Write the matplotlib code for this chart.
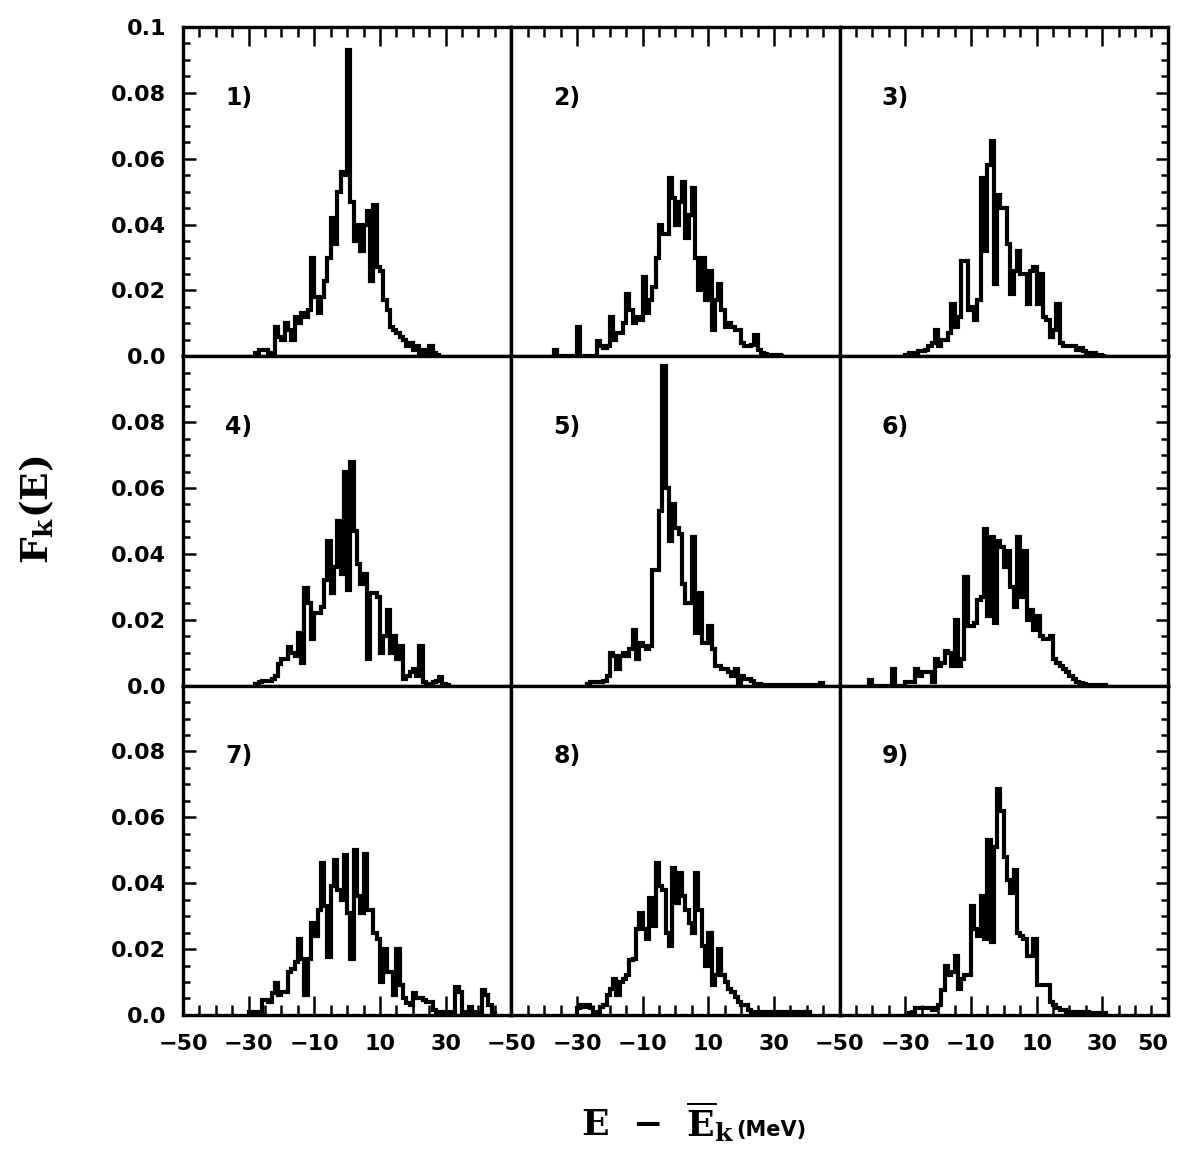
import numpy as np
import matplotlib
matplotlib.use("Agg")
import matplotlib.pyplot as plt
from matplotlib.ticker import FixedLocator, MultipleLocator, FuncFormatter

# energy distributions F_k(E), 1 MeV bins, first bin left edge = Pn_START
P1_START = -28
P1 = [0.001, 0.002, 0.002, 0.002, 0.001, 0.001, 0.009, 0.006, 0.005, 0.010,
      0.008, 0.005, 0.012, 0.010, 0.013, 0.012, 0.014, 0.030, 0.018, 0.013,
      0.018, 0.023, 0.030, 0.042, 0.034, 0.050, 0.056, 0.055, 0.093, 0.047,
      0.035, 0.040, 0.032, 0.040, 0.044, 0.023, 0.046, 0.027, 0.026, 0.017,
      0.014, 0.009, 0.008, 0.007, 0.006, 0.005, 0.003, 0.004, 0.002, 0.003,
      0.001, 0.002, 0.001, 0.003, 0.001, 0.0005]

P2_START = -37
P2 = [0.002, 0, 0, 0, 0, 0, 0, 0.009, 0, 0,
      0, 0, 0, 0.0045, 0.003, 0.0025, 0.003, 0.012, 0.005, 0.007,
      0.007, 0.010, 0.019, 0.014, 0.010, 0.012, 0.011, 0.024, 0.013, 0.017,
      0.021, 0.030, 0.040, 0.037, 0.037, 0.054, 0.048, 0.040, 0.047, 0.053,
      0.036, 0.043, 0.051, 0.030, 0.020, 0.030, 0.017, 0.026, 0.008, 0.017,
      0.022, 0.014, 0.009, 0.010, 0.009, 0.008, 0.008, 0.004, 0.003, 0.003,
      0.0035, 0.0066, 0.002, 0.001, 0.0008, 0.0005, 0.0004, 0.0003, 0.0003, 0.0002]

P3_START = -30
P3 = [0.0005, 0.001, 0.0005, 0.001, 0.0015, 0.0015, 0.002, 0.003, 0.004, 0.008,
      0.003, 0.005, 0.005, 0.007, 0.016, 0.009, 0.012, 0.029, 0.029, 0.014,
      0.015, 0.011, 0.017, 0.054, 0.032, 0.058, 0.0655, 0.022, 0.049, 0.045,
      0.045, 0.034, 0.019, 0.026, 0.032, 0.025, 0.025, 0.016, 0.026, 0.027,
      0.016, 0.025, 0.012, 0.011, 0.006, 0.008, 0.016, 0.004, 0.003, 0.003,
      0.003, 0.003, 0.002, 0.0025, 0.0015, 0.001, 0.0008, 0.001, 0.0004, 0.0003, 0.0002]

P4_START = -28
P4 = [0.0005, 0.001, 0.0015, 0.0015, 0.0015, 0.002, 0.003, 0.0066, 0.008, 0.008,
      0.0117, 0.010, 0.009, 0.016, 0.007, 0.0295, 0.025, 0.014, 0.022, 0.022,
      0.024, 0.032, 0.044, 0.028, 0.036, 0.050, 0.034, 0.065, 0.029, 0.068,
      0.047, 0.037, 0.031, 0.034, 0.008, 0.028, 0.028, 0.027, 0.010, 0.015,
      0.023, 0.010, 0.015, 0.008, 0.012, 0.002, 0.003, 0.004, 0.005, 0.003,
      0.012, 0.001, 0.0005, 0.0005, 0.001, 0.0015, 0.0025, 0.0005, 0.0003]

P5_START = -27
P5 = [0.0005, 0.001, 0.001, 0.001, 0.001, 0.0015, 0.003, 0.010, 0.009, 0.005,
      0.009, 0.010, 0.009, 0.011, 0.017, 0.008, 0.013, 0.012, 0.011, 0.012,
      0.035, 0.035, 0.053, 0.097, 0.060, 0.044, 0.055, 0.048, 0.046, 0.031,
      0.025, 0.025, 0.045, 0.016, 0.028, 0.013, 0.013, 0.018, 0.011, 0.006,
      0.006, 0.005, 0.005, 0.004, 0.003, 0.005, 0.0005, 0.003, 0.002, 0.002,
      0.0015, 0.0005, 0.0005, 0.0003, 0.0003, 0.0002, 0.0002, 0.0002, 0.0002, 0.0002,
      0.0002, 0.0002, 0.0002, 0.0002, 0.0002, 0.0002, 0.0002, 0.0002, 0.0002, 0.0002,
      0.0002, 0.0008]

P6_START = -41
P6 = [0.0018, 0, 0, 0, 0, 0, 0, 0.005, 0, 0,
      0, 0.001, 0.001, 0.001, 0.005, 0.003, 0.004, 0.004, 0.004, 0.001,
      0.008, 0.006, 0.007, 0.0105, 0.010, 0.006, 0.020, 0.006, 0.008, 0.033,
      0.018, 0.018, 0.019, 0.026, 0.027, 0.0476, 0.021, 0.045, 0.019, 0.044,
      0.042, 0.036, 0.041, 0.030, 0.024, 0.045, 0.027, 0.041, 0.020, 0.023,
      0.017, 0.021, 0.015, 0.014, 0.014, 0.015, 0.008, 0.007, 0.006, 0.005,
      0.004, 0.003, 0.002, 0.001, 0.0008, 0.0005, 0.0003, 0.0003, 0.0003, 0.0003,
      0.0002, 0.0002]

P7_START = -30
P7 = [0.001, 0.001, 0.001, 0.001, 0.0045, 0.0045, 0.004, 0.0065, 0.0097, 0.006,
      0.007, 0.007, 0.013, 0.014, 0.016, 0.023, 0.017, 0.006, 0.017, 0.028,
      0.024, 0.032, 0.046, 0.033, 0.0175, 0.039, 0.047, 0.038, 0.035, 0.0485,
      0.031, 0.017, 0.050, 0.036, 0.031, 0.049, 0.032, 0.032, 0.025, 0.023,
      0.010, 0.020, 0.013, 0.013, 0.006, 0.020, 0.009, 0.005, 0.0035, 0.003,
      0.0066, 0.005, 0.005, 0.0045, 0.004, 0.004, 0.0015, 0.001, 0.001, 0.001,
      0.001, 0.001, 0.0005, 0.0085, 0.007, 0.0005, 0.001, 0.0025, 0.001, 0.0005,
      0.0005, 0.0075, 0.006, 0.003, 0.0005]

P8_START = -30
P8 = [0.002, 0.003, 0.0025, 0.003, 0.002, 0.001, 0.001, 0.0025, 0.003, 0.006,
      0.008, 0.011, 0.006, 0.010, 0.011, 0.012, 0.0168, 0.017, 0.026, 0.031,
      0.026, 0.023, 0.0355, 0.027, 0.0462, 0.039, 0.038, 0.025, 0.021, 0.0447,
      0.034, 0.043, 0.036, 0.032, 0.028, 0.025, 0.043, 0.032, 0.021, 0.015,
      0.025, 0.009, 0.012, 0.020, 0.012, 0.010, 0.008, 0.007, 0.0055, 0.004,
      0.003, 0.003, 0.0015, 0.001, 0.001, 0.001, 0.001, 0.001, 0.001, 0.001,
      0.001, 0.001, 0.001, 0.001, 0.001, 0.001, 0.0008, 0.0008, 0.0008, 0.0008,
      0.0008]

P9_START = -29
P9 = [0.0005, 0.001, 0.002, 0.002, 0.002, 0.002, 0.002, 0.0015, 0.002, 0.003,
      0.0075, 0.015, 0.012, 0.013, 0.018, 0.008, 0.011, 0.012, 0.012, 0.033,
      0.026, 0.024, 0.036, 0.023, 0.053, 0.022, 0.051, 0.0685, 0.062, 0.048,
      0.041, 0.037, 0.044, 0.025, 0.024, 0.023, 0.018, 0.018, 0.023, 0.009,
      0.009, 0.009, 0.009, 0.004, 0.003, 0.002, 0.0015, 0.0015, 0.001, 0.001,
      0.0008, 0.0008, 0.0008, 0.0008, 0.0008, 0.0005, 0.0005, 0.0005, 0.0005, 0.0005]

PANELS = [(P1_START, P1), (P2_START, P2), (P3_START, P3),
          (P4_START, P4), (P5_START, P5), (P6_START, P6),
          (P7_START, P7), (P8_START, P8), (P9_START, P9)]
LABELS = ["1)", "2)", "3)", "4)", "5)", "6)", "7)", "8)", "9)"]

X_TICKS = [-50, -30, -10, 10, 30, 50]

plt.rcParams["font.family"] = ["DejaVu Sans"]
plt.rcParams["mathtext.fontset"] = "dejavuserif"

fig = plt.figure(figsize=(11.78, 11.51), dpi=100)

W, H = 1178.0, 1151.0
left, top = 183 / W, 1 - 27 / H
pw, ph = 328.3 / W, 329.3 / H


def yfmt(v, pos):
    if abs(v) < 1e-9:
        return "0.0"
    if abs(v - 0.1) < 1e-9:
        return "0.1"
    return "%.2f" % v


for i, (start, vals) in enumerate(PANELS):
    r, c = divmod(i, 3)
    ax = fig.add_axes([left + c * pw, top - (r + 1) * ph, pw, ph])
    edges = start + np.arange(len(vals) + 1)
    ax.stairs(vals, edges, color="black", lw=3.0, baseline=0)

    ax.set_xlim(-50, 50)
    ax.set_ylim(0, 0.1)
    for s in ax.spines.values():
        s.set_linewidth(2.4)

    ax.xaxis.set_major_locator(FixedLocator(X_TICKS))
    ax.xaxis.set_minor_locator(MultipleLocator(5))
    keep50 = (c == 2)
    ax.xaxis.set_major_formatter(FuncFormatter(
        lambda v, p, k=keep50: "" if (v > 45 and not k) else ("%d" % round(v)).replace("-", "\u2212")))
    if r == 0:
        ax.yaxis.set_major_locator(FixedLocator([0, 0.02, 0.04, 0.06, 0.08, 0.1]))
    else:
        ax.yaxis.set_major_locator(FixedLocator([0, 0.02, 0.04, 0.06, 0.08]))
    ax.yaxis.set_minor_locator(MultipleLocator(0.005))
    ax.yaxis.set_major_formatter(FuncFormatter(yfmt))

    ax.tick_params(axis="x", which="both", direction="in", top=(r == 0), bottom=(r == 2),
                   labelbottom=(r == 2), width=1.8, pad=14)
    ax.tick_params(axis="x", which="major", length=14, labelsize=16)
    ax.tick_params(axis="x", which="minor", length=7)
    ax.tick_params(axis="y", which="both", direction="in", left=(c == 0), right=(c == 2),
                   labelleft=(c == 0), width=1.8, pad=12)
    ax.tick_params(axis="y", which="major", length=9, labelsize=16)
    ax.tick_params(axis="y", which="minor", length=5)
    for lab in ax.get_xticklabels() + ax.get_yticklabels():
        lab.set_fontweight("bold")
    if r == 2 and c == 2:
        # keep the "50" at the right edge inside the figure
        ax.xaxis.get_major_ticks()[-1].label1.set_horizontalalignment("right")

    ax.text(0.17, 0.785, LABELS[i], transform=ax.transAxes, fontsize=17,
            fontweight="bold", ha="center", va="center")

fig.text(37 / W, 1 - 510 / H, r"$\mathbf{F_k(E)}$", rotation=90, fontsize=27,
         ha="center", va="center")
fig.text(734 / W, 1 - 1122 / H, r"$\mathbf{E\ \,-\ \,\overline{E}_k}$", fontsize=26,
         ha="right", va="center")
fig.text(736 / W, 1 - 1130 / H, "(MeV)", fontsize=15, fontweight="bold",
         ha="left", va="center")

fig.savefig("out.png", dpi=100)
